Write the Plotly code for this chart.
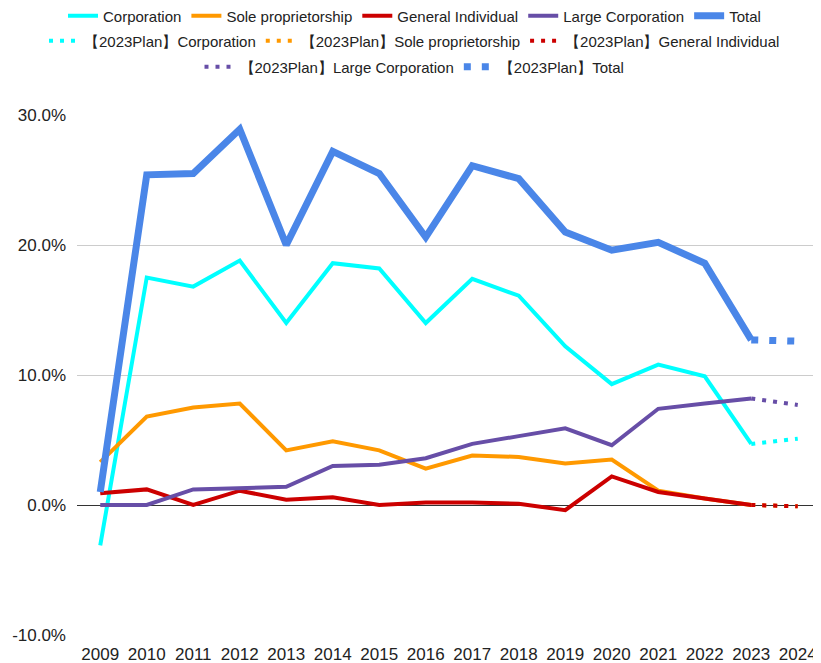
import plotly.graph_objects as go

years = [str(y) for y in range(2009, 2025)]

corporation = [-3.1, 17.5, 16.8, 18.8, 14.0, 18.6, 18.2, 14.0, 17.4, 16.1, 12.2, 9.3, 10.8, 9.9, 4.7, None]
sole_prop = [3.3, 6.8, 7.5, 7.8, 4.2, 4.9, 4.2, 2.8, 3.8, 3.7, 3.2, 3.5, 1.1, 0.5, 0.0, None]
general_ind = [0.9, 1.2, 0.0, 1.1, 0.4, 0.6, 0.0, 0.2, 0.2, 0.1, -0.4, 2.2, 1.0, 0.5, 0.0, None]
large_corp = [0.0, 0.0, 1.2, 1.3, 1.4, 3.0, 3.1, 3.6, 4.7, 5.3, 5.9, 4.6, 7.4, 7.8, 8.2, None]
total = [1.0, 25.4, 25.5, 28.9, 20.0, 27.2, 25.5, 20.6, 26.1, 25.1, 21.0, 19.6, 20.2, 18.6, 12.7, None]

pad = [None] * 14
plan_corporation = pad + [4.7, 5.1]
plan_sole_prop = pad + [0.0, -0.1]
plan_general_ind = pad + [0.0, -0.1]
plan_large_corp = pad + [8.2, 7.7]
plan_total = pad + [12.7, 12.6]

y_ticks = [-10, 0, 10, 20, 30]
y_tick_labels = ["-10.0%", "0.0%", "10.0%", "20.0%", "30.0%"]

C_CORP = "#00FFFF"
C_SOLE = "#FF9900"
C_GEN = "#CC0000"
C_LARGE = "#674EA7"
C_TOTAL = "#4A86E8"

fig = go.Figure()

def add(name, vals, color, width, legend, dash="solid"):
    fig.add_trace(go.Scatter(
        x=years, y=vals, name=name, mode="lines",
        line=dict(color=color, width=width, dash=dash),
        connectgaps=False, legend=legend, hoverinfo="skip",
    ))

add("Corporation", corporation, C_CORP, 4, "legend")
add("Sole proprietorship", sole_prop, C_SOLE, 4, "legend")
add("General Individual", general_ind, C_GEN, 4, "legend")
add("Large Corporation", large_corp, C_LARGE, 4, "legend")
add("Total", total, C_TOTAL, 7, "legend")

add("【2023Plan】Corporation", plan_corporation, C_CORP, 4, "legend2", "4px,7px")
add("【2023Plan】Sole proprietorship", plan_sole_prop, C_SOLE, 4, "legend2", "4px,7px")
add("【2023Plan】General Individual", plan_general_ind, C_GEN, 4, "legend2", "4px,7px")
add("【2023Plan】Large Corporation", plan_large_corp, C_LARGE, 4, "legend3", "4px,7px")
add("【2023Plan】Total", plan_total, C_TOTAL, 7, "legend3", "7px,11px")

# page has an 8px body margin; the figure is sized so it fills the window
W, H = 813, 655
leg_common = dict(orientation="h", xref="container", yref="container",
                  x=0.5, xanchor="center", yanchor="middle",
                  font=dict(family="Liberation Sans, Arial, sans-serif", size=15, color="#222222"),
                  bgcolor="rgba(0,0,0,0)", itemwidth=30)

fig.update_layout(
    width=W, height=H,
    margin=dict(l=69, r=0, t=107, b=28, autoexpand=False),
    paper_bgcolor="white", plot_bgcolor="white",
    font=dict(family="Liberation Sans, Arial, sans-serif", size=17, color="#222222"),
    showlegend=True,
    legend=dict(**leg_common, y=1 - 8 / H),
    legend2=dict(**leg_common, y=1 - 33 / H),
    legend3=dict(**leg_common, y=1 - 59 / H),
    xaxis=dict(
        type="category", range=[-0.5, 15.5], showgrid=False, zeroline=False,
        showline=False, ticks="", tickfont=dict(size=17, color="#222222"),
        ticklabelstandoff=7, automargin=False, fixedrange=True,
    ),
    yaxis=dict(
        range=[-10, 30], tickvals=y_ticks, ticktext=y_tick_labels,
        showgrid=True, gridcolor="#CCCCCC", gridwidth=1,
        zeroline=True, zerolinecolor="#333333", zerolinewidth=1.2,
        showline=False, ticks="", ticklabelstandoff=10,
        tickfont=dict(size=17, color="#222222"),
        automargin=False, fixedrange=True,
    ),
)

fig.write_html("out.html")
